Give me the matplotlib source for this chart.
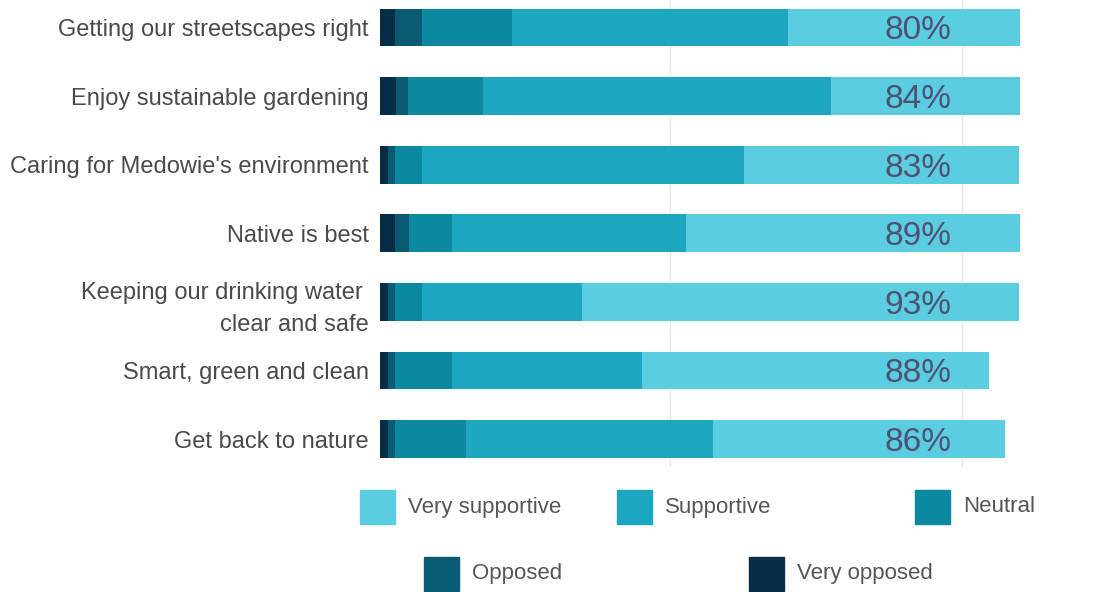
import matplotlib
matplotlib.use("Agg")
import matplotlib.pyplot as plt
from matplotlib.patches import Rectangle
import numpy as np

plt.rcParams['font.family'] = ['Liberation Sans', 'DejaVu Sans']

# data (share of respondents, %)
categories = ["Getting our streetscapes right", "Enjoy sustainable gardening",
              "Caring for Medowie's environment", "Native is best",
              "Keeping our drinking water \nclear and safe", "Smart, green and clean",
              "Get back to nature"]
very_opposed = [2.3, 2.5, 1.2, 2.3, 1.2, 1.2, 1.2]
opposed = [4.2, 1.9, 1.1, 2.3, 1.1, 1.1, 1.1]
neutral = [14.1, 11.7, 4.2, 6.6, 4.2, 8.9, 11.2]
supportive = [43.1, 54.4, 50.3, 36.6, 25.0, 29.8, 38.6]
very_supportive = [36.3, 29.5, 43.1, 52.2, 68.4, 54.2, 45.5]
support_labels = ["80%", "84%", "83%", "89%", "93%", "88%", "86%"]

colors = {"Very supportive": "#5ACDE1", "Supportive": "#1DA6BF",
          "Neutral": "#0C88A1", "Opposed": "#0A5B72", "Very opposed": "#062F47"}

fig = plt.figure(figsize=(10.99, 5.92), dpi=100)
ax = fig.add_axes([380 / 1099, 1 - 466.5 / 592, 640 / 1099, 466.5 / 592])

y = np.arange(len(categories))
left = np.zeros(len(categories))
segs = [("Very opposed", very_opposed), ("Opposed", opposed), ("Neutral", neutral),
        ("Supportive", supportive), ("Very supportive", very_supportive)]
for name, vals in segs:
    ax.barh(y, vals, left=left, height=0.55, color=colors[name], zorder=2)
    left = left + np.array(vals)

# faint gridlines
for gx in [45.3, 90.9]:
    ax.axvline(gx, color="#e8e8e8", lw=1, zorder=0)

for i, lab in enumerate(support_labels):
    ax.text(84.0, y[i] + 0.05, lab, ha="center", va="center", fontsize=24,
            color="#4f5172", zorder=3)

ax.set_xlim(0, 100)
ax.set_ylim(6.4, -0.4)
ax.set_yticks(y)
ax.set_yticklabels(categories, fontsize=17, color="#4a4a4a", linespacing=1.55)
ax.tick_params(axis="y", length=0, pad=8)
ax.set_xticks([])
for s in ax.spines.values():
    s.set_visible(False)

# legend drawn by hand to keep the irregular spacing
leg = [("Very supportive", 360, 490), ("Supportive", 617, 490), ("Neutral", 915, 490),
       ("Opposed", 424, 557), ("Very opposed", 749, 557)]
for name, px, py in leg:
    fig.add_artist(Rectangle((px / 1099, 1 - (py + 34) / 592), 35 / 1099, 34 / 592,
                             transform=fig.transFigure, color=colors[name]))
    fig.text((px + 48) / 1099, 1 - (py + 17) / 592, name, ha="left", va="center",
             fontsize=16, color="#555555")

fig.savefig("out.png", dpi=100)
